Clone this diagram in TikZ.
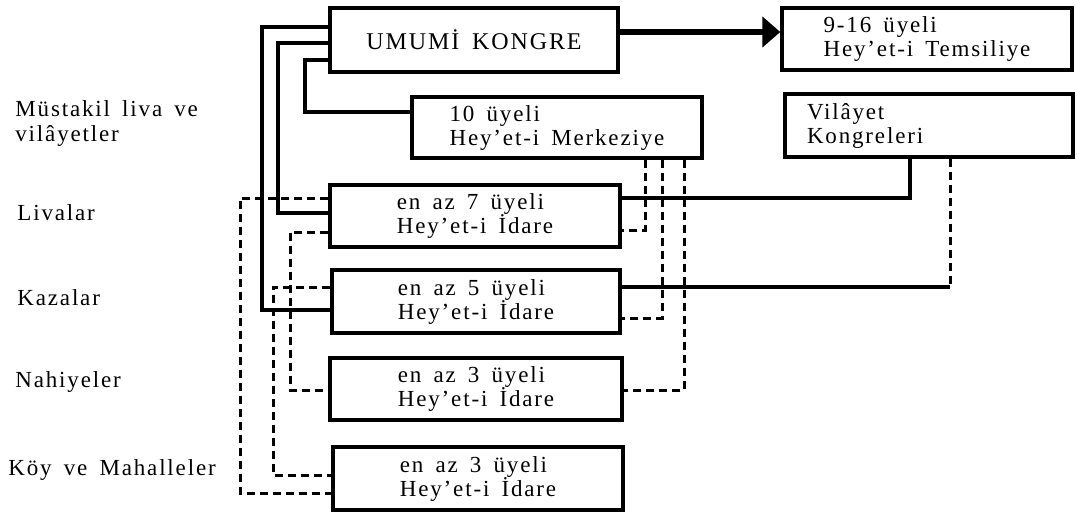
\documentclass[tikz,border=0pt]{standalone}
\usepackage{fontspec}
\setmainfont{Liberation Serif}[LetterSpace=8, WordSpace=1.6]
\usetikzlibrary{arrows.meta}
\newcommand{\boxfont}{\fontsize{11.5}{12}\selectfont}
\newcommand{\labelfont}{\fontsize{11.5}{12.5}\selectfont}
\tikzset{
  unitbox/.style={rectangle, draw=black, line width=1.7pt, inner sep=0pt, align=left, font=\boxfont},
  rowlabel/.style={anchor=west, align=left, inner sep=0pt, font=\labelfont},
  wire/.style={line width=1.7pt},
  dashwire/.style={line width=1.5pt, dash pattern=on 4pt off 2.5pt},
  bigarrow/.style={line width=2.8pt, -{Triangle[length=9pt, width=15pt]}},
}

\begin{document}
\begin{tikzpicture}[x=0.5pt, y=-0.5pt]
\useasboundingbox (0,0) rectangle (1077,515);
% left column
\node[rowlabel] (mustakil) at (15,123) {Müstakil liva ve\\vilâyetler};
\node[rowlabel] (livalar) at (17,213) {Livalar};
\node[rowlabel] (kazalar) at (17,298) {Kazalar};
\node[rowlabel] (nahiyeler) at (15,382) {Nahiyeler};
\node[rowlabel] (koyler) at (8,470) {Köy ve Mahalleler};
% boxes
\node[unitbox, minimum width=144pt, minimum height=32pt, font=\fontsize{12}{14}\selectfont] (kongre) at (474,40) {UMUMİ KONGRE};
\node[unitbox, minimum width=145pt, minimum height=31pt] (temsil) at (927,39) {9-16 üyeli\\Hey'et-i Temsiliye};
\node[unitbox, minimum width=145pt, minimum height=30.5pt] (merkez) at (557,127.5) {10 üyeli\\Hey'et-i Merkeziye};
\node[unitbox, minimum width=144pt, minimum height=31.5pt, text width=122pt] (vilayet) at (929,125.5) {Vilâyet\\Kongreleri};
\node[unitbox, minimum width=145pt, minimum height=31pt] (liva) at (475,216) {en az 7 üyeli\\Hey'et-i İdare};
\node[unitbox, minimum width=144pt, minimum height=31.5pt] (kaza) at (476,301.5) {en az 5 üyeli\\Hey'et-i İdare};
\node[unitbox, minimum width=146pt, minimum height=31pt] (nahiye) at (476,389) {en az 3 üyeli\\Hey'et-i İdare};
\node[unitbox, minimum width=145pt, minimum height=31.5pt] (koy) at (478,478.5) {en az 3 üyeli\\Hey'et-i İdare};
\coordinate (kz) at (950,287);

% solid links
\draw[bigarrow] (kongre.east |- 0,32) -- (temsil.west |- 0,32);
\draw[wire] (kongre.west |- 0,27) -- (262,27) |- (kaza.west |- 0,310);
\draw[wire] (kongre.west |- 0,43) -- (278,43) |- (liva.west |- 0,213);
\draw[wire] (kongre.west |- 0,60) -- (305,60) |- (merkez.west |- 0,112);
\draw[wire] (vilayet.south -| 910,0) |- (liva.east |- 0,198);
\draw[wire] (kz) -- (kaza.east |- kz);
\draw[dashwire] (vilayet.south -| kz) -- (kz);

% dashed links
\draw[dashwire] (merkez.south -| 645,0) |- (liva.east |- 0,230);
\draw[dashwire] (merkez.south -| 662,0) |- (kaza.east |- 0,318);
\draw[dashwire] (merkez.south -| 684,0) |- (nahiye.east |- 0,390);
\draw[dashwire] (liva.west |- 0,198) -- (240,198) |- (koy.west |- 0,493);
\draw[dashwire] (liva.west |- 0,232) -- (290,232) |- (nahiye.west |- 0,390);
\draw[dashwire] (kaza.west |- 0,287) -- (273,287) |- (koy.west |- 0,475);
\end{tikzpicture}
\end{document}
